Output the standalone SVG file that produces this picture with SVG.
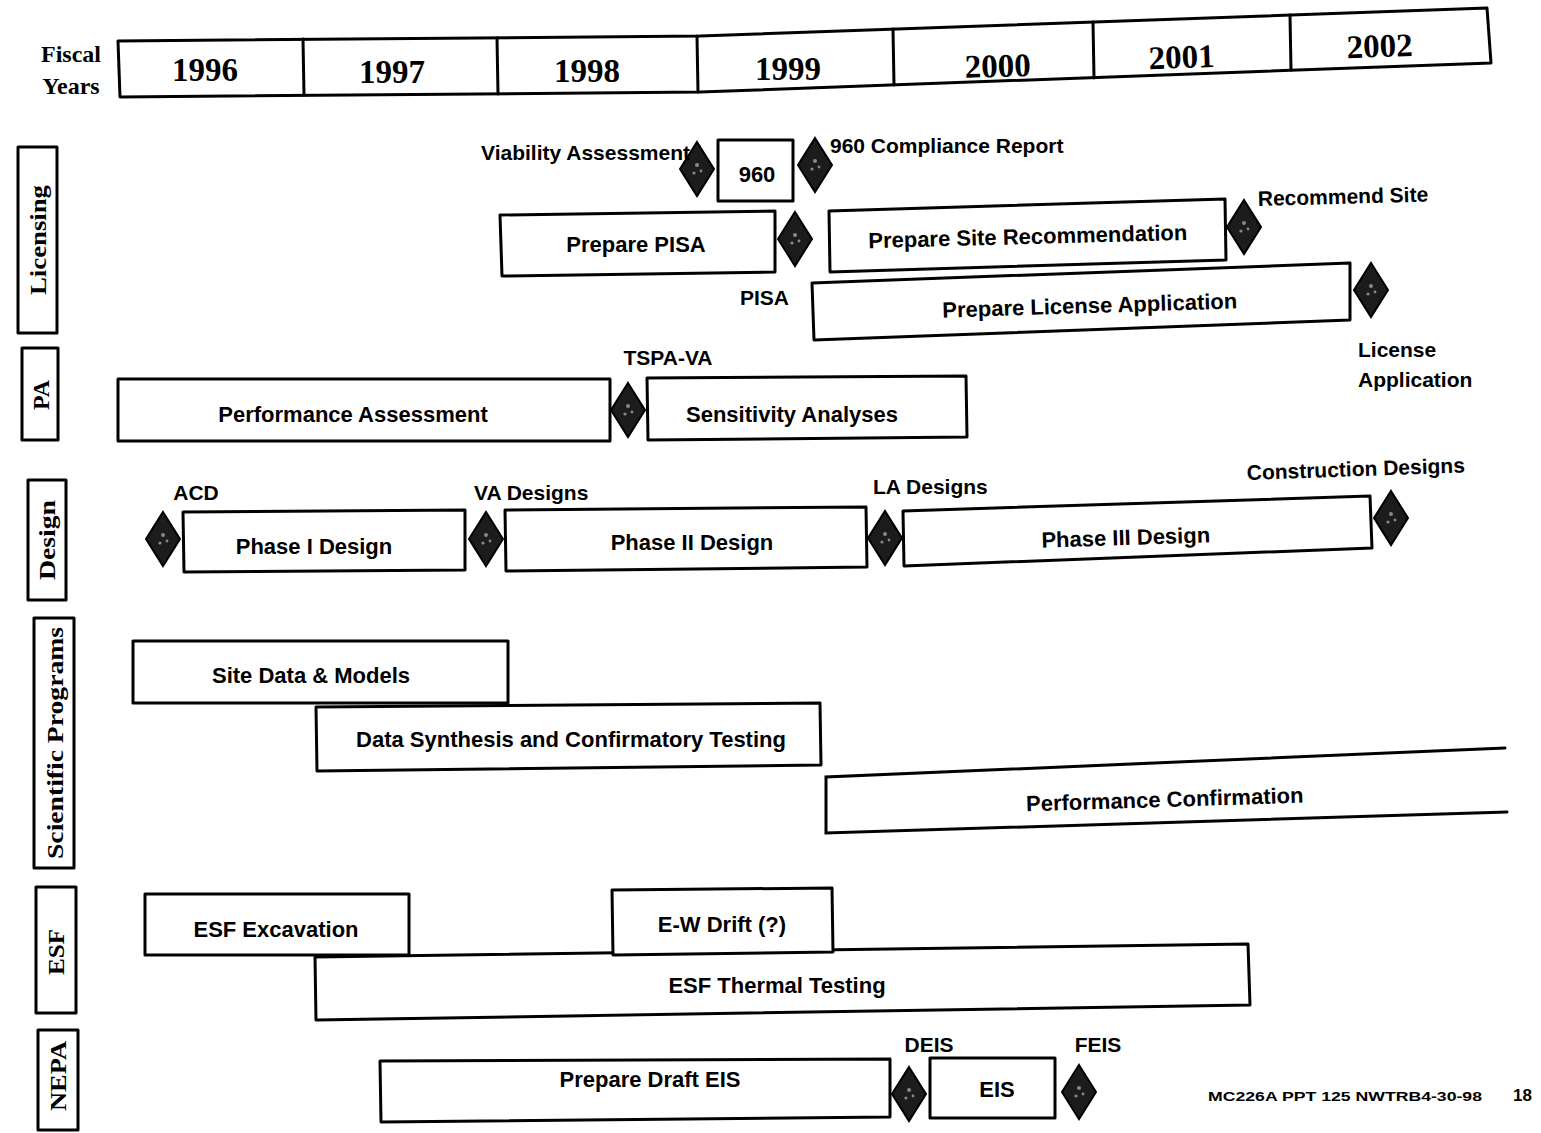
<svg xmlns="http://www.w3.org/2000/svg" width="1541" height="1133" viewBox="0 0 1541 1133">
<style>
.bx{fill:#fff;stroke:#000;stroke-width:3;stroke-linejoin:round}
.ln{fill:none;stroke:#000;stroke-width:3;stroke-linecap:round}
.ms{fill:#1c1c1c;stroke:#000;stroke-width:2}
.t{font-family:"Liberation Sans",Arial,sans-serif;font-weight:bold;font-size:22px;fill:#000;text-anchor:middle}
.l{font-family:"Liberation Sans",Arial,sans-serif;font-weight:bold;font-size:21px;fill:#000}
.y{font-family:"Liberation Serif","Times New Roman",serif;font-weight:bold;font-size:33px;fill:#000;text-anchor:middle}
.s{font-family:"Liberation Serif","Times New Roman",serif;font-weight:bold;font-size:24px;fill:#000;text-anchor:middle}
</style>
<defs>
<g id="dm"><polygon class="ms" points="0,-27 17,0 0,27 -17,0"/><circle cx="0" cy="-4" r="2" fill="#888"/><circle cx="-3" cy="4" r="1.6" fill="#888"/><circle cx="4" cy="2" r="1.4" fill="#888"/></g>
</defs>
<rect width="1541" height="1133" fill="#fff"/>

<g id="header">
<polygon class="bx" points="118,41 700,36 1487,8 1491,63 700,92 120,97"/>
<path class="ln" d="M303,39 L304,95 M497,38 L498,94 M697,36 L698,92 M893,29 L894,85 M1093,22 L1094,78 M1290,15 L1291,70"/>
<text class="s" x="71" y="62">Fiscal</text>
<text class="s" x="71" y="94">Years</text>
<text class="y" x="205" y="81">1996</text>
<text class="y" x="392" y="83">1997</text>
<text class="y" x="587" y="82">1998</text>
<text class="y" x="788" y="80">1999</text>
<text class="y" x="998" y="77" transform="rotate(-1.5 998 77)">2000</text>
<text class="y" x="1182" y="68" transform="rotate(-2 1182 68)">2001</text>
<text class="y" x="1380" y="57" transform="rotate(-2 1380 57)">2002</text>
</g>

<g id="lanes">
<g id="lane-licensing"><rect class="bx" x="18" y="147" width="39" height="186"/><text class="s" transform="translate(46 240) rotate(-90)" textLength="110" lengthAdjust="spacingAndGlyphs">Licensing</text></g>
<g id="lane-pa"><rect class="bx" x="22" y="348" width="36" height="92"/><text class="s" transform="translate(49 395) rotate(-90)" textLength="30" lengthAdjust="spacingAndGlyphs">PA</text></g>
<g id="lane-design"><rect class="bx" x="28" y="480" width="38" height="120"/><text class="s" transform="translate(55 540) rotate(-90)" textLength="80" lengthAdjust="spacingAndGlyphs">Design</text></g>
<g id="lane-sci"><rect class="bx" x="34" y="618" width="40" height="250"/><text class="s" transform="translate(63 743) rotate(-90)" textLength="232" lengthAdjust="spacingAndGlyphs">Scientific Programs</text></g>
<g id="lane-esf"><rect class="bx" x="36" y="887" width="40" height="126"/><text class="s" transform="translate(64 952) rotate(-90)" textLength="46" lengthAdjust="spacingAndGlyphs">ESF</text></g>
<g id="lane-nepa"><rect class="bx" x="38" y="1030" width="40" height="100"/><text class="s" transform="translate(66 1076) rotate(-90)" textLength="70" lengthAdjust="spacingAndGlyphs">NEPA</text></g>
</g>

<g id="connectors"></g>

<g id="licensing">
<g id="n960"><rect class="bx" x="718" y="140" width="75" height="61"/><text class="t" x="757" y="182">960</text></g>
<g id="m-va"><use href="#dm" x="697" y="169"/><text class="l" x="690" y="160" text-anchor="end">Viability Assessment</text></g>
<g id="m-960"><use href="#dm" x="815" y="165"/><text class="l" x="830" y="153">960 Compliance Report</text></g>
<g id="pisa"><polygon class="bx" points="500,215 775,211 775,272 502,276"/><text class="t" x="636" y="252">Prepare PISA</text></g>
<g id="m-pisa"><use href="#dm" x="795" y="239"/><text class="l" x="740" y="305">PISA</text></g>
<g id="siterec"><polygon class="bx" points="829,211 1225,199 1226,260 830,272"/><text class="t" x="1028" y="244" transform="rotate(-1.5 1028 244)">Prepare Site Recommendation</text></g>
<g id="m-rec"><use href="#dm" x="1244" y="227"/><text class="l" x="1258" y="206" transform="rotate(-1.5 1258 206)">Recommend Site</text></g>
<g id="licapp"><polygon class="bx" points="812,283 1350,263 1350,320 814,340"/><text class="t" x="1090" y="313" transform="rotate(-1.8 1090 313)">Prepare License Application</text></g>
<g id="m-la"><use href="#dm" x="1371" y="290"/><text class="l" x="1358" y="357">License</text><text class="l" x="1358" y="387">Application</text></g>
</g>

<g id="pa">
<g id="perfassess"><rect class="bx" x="118" y="379" width="492" height="62"/><text class="t" x="353" y="422">Performance Assessment</text></g>
<g id="m-tspa"><use href="#dm" x="628" y="410"/><text class="l" x="668" y="365" text-anchor="middle">TSPA-VA</text></g>
<g id="sens"><polygon class="bx" points="647,378 966,376 967,437 648,440"/><text class="t" x="792" y="422">Sensitivity Analyses</text></g>
</g>

<g id="design">
<g id="m-acd"><use href="#dm" x="163" y="539"/><text class="l" x="196" y="500" text-anchor="middle">ACD</text></g>
<g id="phase1"><polygon class="bx" points="183,512 465,510 465,570 184,572"/><text class="t" x="314" y="554">Phase I Design</text></g>
<g id="m-vad"><use href="#dm" x="486" y="539"/><text class="l" x="474" y="500">VA Designs</text></g>
<g id="phase2"><polygon class="bx" points="505,510 866,507 867,567 506,571"/><text class="t" x="692" y="550">Phase II Design</text></g>
<g id="m-lad"><use href="#dm" x="885" y="538"/><text class="l" x="873" y="494">LA Designs</text></g>
<g id="phase3"><polygon class="bx" points="903,511 1370,496 1372,548 904,566"/><text class="t" x="1126" y="545" transform="rotate(-1.8 1126 545)">Phase III Design</text></g>
<g id="m-cd"><use href="#dm" x="1391" y="518"/><text class="l" x="1247" y="480" transform="rotate(-2 1247 480)">Construction Designs</text></g>
</g>

<g id="science">
<g id="sitedata"><rect class="bx" x="133" y="641" width="375" height="62"/><text class="t" x="311" y="683">Site Data &amp; Models</text></g>
<g id="synth"><polygon class="bx" points="316,707 820,703 821,765 317,771"/><text class="t" x="571" y="747">Data Synthesis and Confirmatory Testing</text></g>
<g id="perfconf"><path class="ln" d="M1505,748 L826,777 L826,833 L1507,812"/><text class="t" x="1165" y="807" transform="rotate(-1.8 1165 807)">Performance Confirmation</text></g>
</g>

<g id="esf">
<g id="esfexc"><rect class="bx" x="145" y="894" width="264" height="61"/><text class="t" x="276" y="937">ESF Excavation</text></g>
<g id="thermal"><polygon class="bx" points="315,957 1248,944 1250,1005 316,1020"/><text class="t" x="777" y="993">ESF Thermal Testing</text></g>
<g id="ewdrift"><polygon class="bx" points="612,890 832,888 833,952 613,955"/><text class="t" x="722" y="932">E-W Drift (?)</text></g>
</g>

<g id="nepa">
<g id="drafteis"><polygon class="bx" points="380,1061 890,1059 890,1117 381,1122"/><text class="t" x="650" y="1087">Prepare Draft EIS</text></g>
<g id="m-deis"><use href="#dm" x="909" y="1094"/><text class="l" x="929" y="1052" text-anchor="middle">DEIS</text></g>
<g id="eis"><rect class="bx" x="930" y="1058" width="125" height="60"/><text class="t" x="997" y="1097">EIS</text></g>
<g id="m-feis"><use href="#dm" x="1079" y="1092"/><text class="l" x="1098" y="1052" text-anchor="middle">FEIS</text></g>
</g>

<g id="footer">
<text x="1208" y="1101" font-family="Liberation Sans,Arial,sans-serif" font-weight="bold" font-size="12" textLength="274" lengthAdjust="spacingAndGlyphs">MC226A PPT 125 NWTRB4-30-98</text>
<text x="1513" y="1101" font-family="Liberation Sans,Arial,sans-serif" font-weight="bold" font-size="17">18</text>
</g>
</svg>
